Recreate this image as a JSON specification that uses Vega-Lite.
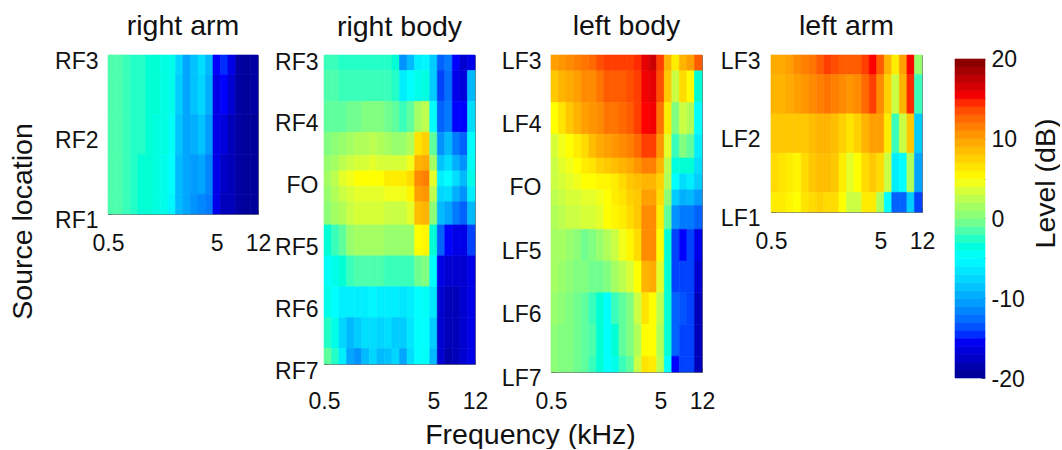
{"$schema":"https://vega.github.io/schema/vega-lite/v6.json","padding":{"left":7,"top":11,"right":0,"bottom":0},"background":"white",
"config":{"font":"Liberation Sans","view":{"stroke":"#777"},"title":{"font":"Liberation Sans","fontSize":28.5,"fontWeight":"normal","color":"#111"},"axis":{"labelFont":"Liberation Sans","titleFont":"Liberation Sans","labelFontSize":23,"titleFontSize":28.5,"titleFontWeight":"normal","labelColor":"#111","titleColor":"#111","grid":false,"tickColor":"#555","domainColor":"#777","tickSize":-4,"labelOverlap":false,"labelBound":false,"labelFlush":false}},
"datasets":{"fe":[{"f":0.5,"g":0.586},{"f":0.586,"g":0.686},{"f":0.686,"g":0.805},{"f":0.805,"g":0.943},{"f":0.943,"g":1.107},{"f":1.107,"g":1.297},{"f":1.297,"g":1.52},{"f":1.52,"g":1.783},{"f":1.783,"g":2.09},{"f":2.09,"g":2.449},{"f":2.449,"g":2.871},{"f":2.871,"g":3.366},{"f":3.366,"g":3.946},{"f":3.946,"g":4.626},{"f":4.626,"g":5.423},{"f":5.423,"g":6.357},{"f":6.357,"g":7.452},{"f":7.452,"g":8.736},{"f":8.736,"g":10.24},{"f":10.24,"g":12}],
"se":[{"s":0,"a":0,"b":0.25},{"s":0.5,"a":0.25,"b":0.75},{"s":1,"a":0.75,"b":1.25},{"s":1.5,"a":1.25,"b":1.625},{"s":1.75,"a":1.625,"b":1.875},{"s":2,"a":1.875,"b":2.125},{"s":2.25,"a":2.125,"b":2.375},{"s":2.5,"a":2.375,"b":2.75},{"s":3,"a":2.75,"b":3.25},{"s":3.5,"a":3.25,"b":3.75},{"s":4,"a":3.75,"b":4.25},{"s":4.5,"a":4.25,"b":4.75},{"s":5,"a":4.75,"b":5}],
"se2":[{"s":0,"a":0,"b":0.25},{"s":0.5,"a":0.25,"b":0.75},{"s":1,"a":0.75,"b":1.25},{"s":1.5,"a":1.25,"b":1.75},{"s":2,"a":1.75,"b":2}],
"ra":[
{"f":0.5,"s":0,"v":-1.5},{"f":0.586,"s":0,"v":-1.5},{"f":0.686,"s":0,"v":-2},{"f":0.805,"s":0,"v":-2.5},{"f":0.943,"s":0,"v":-2.5},{"f":1.107,"s":0,"v":-3},{"f":1.297,"s":0,"v":-3},{"f":1.52,"s":0,"v":-3.5},{"f":1.783,"s":0,"v":-4},{"f":2.09,"s":0,"v":-7.5},{"f":2.449,"s":0,"v":-10},{"f":2.871,"s":0,"v":-8.5},{"f":3.366,"s":0,"v":-7},{"f":3.946,"s":0,"v":-9},{"f":4.626,"s":0,"v":-15},{"f":5.423,"s":0,"v":-14.5},{"f":6.357,"s":0,"v":-16},{"f":7.452,"s":0,"v":-19},{"f":8.736,"s":0,"v":-19.5},{"f":10.24,"s":0,"v":-19},
{"f":0.5,"s":0.5,"v":-1.5},{"f":0.586,"s":0.5,"v":-1.5},{"f":0.686,"s":0.5,"v":-2},{"f":0.805,"s":0.5,"v":-2.5},{"f":0.943,"s":0.5,"v":-2.5},{"f":1.107,"s":0.5,"v":-3},{"f":1.297,"s":0.5,"v":-3},{"f":1.52,"s":0.5,"v":-3.5},{"f":1.783,"s":0.5,"v":-4},{"f":2.09,"s":0.5,"v":-8},{"f":2.449,"s":0.5,"v":-10},{"f":2.871,"s":0.5,"v":-8.5},{"f":3.366,"s":0.5,"v":-7.5},{"f":3.946,"s":0.5,"v":-9.5},{"f":4.626,"s":0.5,"v":-16},{"f":5.423,"s":0.5,"v":-15},{"f":6.357,"s":0.5,"v":-17},{"f":7.452,"s":0.5,"v":-19},{"f":8.736,"s":0.5,"v":-19.5},{"f":10.24,"s":0.5,"v":-19},
{"f":0.5,"s":1,"v":-1.5},{"f":0.586,"s":1,"v":-1.5},{"f":0.686,"s":1,"v":-2},{"f":0.805,"s":1,"v":-2.5},{"f":0.943,"s":1,"v":-2.5},{"f":1.107,"s":1,"v":-3},{"f":1.297,"s":1,"v":-3.5},{"f":1.52,"s":1,"v":-3.5},{"f":1.783,"s":1,"v":-4.5},{"f":2.09,"s":1,"v":-8.5},{"f":2.449,"s":1,"v":-10},{"f":2.871,"s":1,"v":-9.5},{"f":3.366,"s":1,"v":-8.5},{"f":3.946,"s":1,"v":-10.5},{"f":4.626,"s":1,"v":-16},{"f":5.423,"s":1,"v":-16.5},{"f":6.357,"s":1,"v":-18},{"f":7.452,"s":1,"v":-19},{"f":8.736,"s":1,"v":-19.5},{"f":10.24,"s":1,"v":-19.5},
{"f":0.5,"s":1.5,"v":-1.5},{"f":0.586,"s":1.5,"v":-1.5},{"f":0.686,"s":1.5,"v":-2},{"f":0.805,"s":1.5,"v":-2.5},{"f":0.943,"s":1.5,"v":-3},{"f":1.107,"s":1.5,"v":-3},{"f":1.297,"s":1.5,"v":-3.5},{"f":1.52,"s":1.5,"v":-4},{"f":1.783,"s":1.5,"v":-5},{"f":2.09,"s":1.5,"v":-9},{"f":2.449,"s":1.5,"v":-10},{"f":2.871,"s":1.5,"v":-10.5},{"f":3.366,"s":1.5,"v":-10},{"f":3.946,"s":1.5,"v":-11.5},{"f":4.626,"s":1.5,"v":-16},{"f":5.423,"s":1.5,"v":-17.5},{"f":6.357,"s":1.5,"v":-18},{"f":7.452,"s":1.5,"v":-19},{"f":8.736,"s":1.5,"v":-19.5},{"f":10.24,"s":1.5,"v":-19.5},
{"f":0.5,"s":2,"v":-1.5},{"f":0.586,"s":2,"v":-1.5},{"f":0.686,"s":2,"v":-2},{"f":0.805,"s":2,"v":-2.5},{"f":0.943,"s":2,"v":-3},{"f":1.107,"s":2,"v":-3},{"f":1.297,"s":2,"v":-3.5},{"f":1.52,"s":2,"v":-4},{"f":1.783,"s":2,"v":-5.5},{"f":2.09,"s":2,"v":-9},{"f":2.449,"s":2,"v":-10},{"f":2.871,"s":2,"v":-11},{"f":3.366,"s":2,"v":-11.5},{"f":3.946,"s":2,"v":-12},{"f":4.626,"s":2,"v":-16},{"f":5.423,"s":2,"v":-18},{"f":6.357,"s":2,"v":-18},{"f":7.452,"s":2,"v":-19},{"f":8.736,"s":2,"v":-19.5},{"f":10.24,"s":2,"v":-19.5}],
"rb":[
{"f":0.5,"s":0,"v":-2},{"f":0.586,"s":0,"v":-2},{"f":0.686,"s":0,"v":-2.5},{"f":0.805,"s":0,"v":-2.5},{"f":0.943,"s":0,"v":-2.5},{"f":1.107,"s":0,"v":-2.5},{"f":1.297,"s":0,"v":-2.5},{"f":1.52,"s":0,"v":-2.5},{"f":1.783,"s":0,"v":-2.5},{"f":2.09,"s":0,"v":-3},{"f":2.449,"s":0,"v":-11},{"f":2.871,"s":0,"v":-9},{"f":3.366,"s":0,"v":-6},{"f":3.946,"s":0,"v":-5.5},{"f":4.626,"s":0,"v":-8},{"f":5.423,"s":0,"v":-13},{"f":6.357,"s":0,"v":-12},{"f":7.452,"s":0,"v":-15},{"f":8.736,"s":0,"v":-17},{"f":10.24,"s":0,"v":-16},
{"f":0.5,"s":0.5,"v":-1.5},{"f":0.586,"s":0.5,"v":-1.5},{"f":0.686,"s":0.5,"v":-2},{"f":0.805,"s":0.5,"v":-2},{"f":0.943,"s":0.5,"v":-2},{"f":1.107,"s":0.5,"v":-2},{"f":1.297,"s":0.5,"v":-2},{"f":1.52,"s":0.5,"v":-2},{"f":1.783,"s":0.5,"v":-2},{"f":2.09,"s":0.5,"v":-2.5},{"f":2.449,"s":0.5,"v":-6},{"f":2.871,"s":0.5,"v":-5},{"f":3.366,"s":0.5,"v":-4},{"f":3.946,"s":0.5,"v":-3.5},{"f":4.626,"s":0.5,"v":-8},{"f":5.423,"s":0.5,"v":-14},{"f":6.357,"s":0.5,"v":-12.5},{"f":7.452,"s":0.5,"v":-16},{"f":8.736,"s":0.5,"v":-16.5},{"f":10.24,"s":0.5,"v":-9},
{"f":0.5,"s":1,"v":-1},{"f":0.586,"s":1,"v":-1},{"f":0.686,"s":1,"v":-1},{"f":0.805,"s":1,"v":-0.5},{"f":0.943,"s":1,"v":-0.5},{"f":1.107,"s":1,"v":0},{"f":1.297,"s":1,"v":0},{"f":1.52,"s":1,"v":0},{"f":1.783,"s":1,"v":-0.5},{"f":2.09,"s":1,"v":-1},{"f":2.449,"s":1,"v":-2},{"f":2.871,"s":1,"v":-1},{"f":3.366,"s":1,"v":1.5},{"f":3.946,"s":1,"v":2.5},{"f":4.626,"s":1,"v":-5},{"f":5.423,"s":1,"v":-13},{"f":6.357,"s":1,"v":-12},{"f":7.452,"s":1,"v":-15},{"f":8.736,"s":1,"v":-15},{"f":10.24,"s":1,"v":-7},
{"f":0.5,"s":1.5,"v":0},{"f":0.586,"s":1.5,"v":0.5},{"f":0.686,"s":1.5,"v":1},{"f":0.805,"s":1.5,"v":1.5},{"f":0.943,"s":1.5,"v":2},{"f":1.107,"s":1.5,"v":2},{"f":1.297,"s":1.5,"v":2.5},{"f":1.52,"s":1.5,"v":2},{"f":1.783,"s":1.5,"v":1.5},{"f":2.09,"s":1.5,"v":1},{"f":2.449,"s":1.5,"v":1},{"f":2.871,"s":1.5,"v":2},{"f":3.366,"s":1.5,"v":6.5},{"f":3.946,"s":1.5,"v":7.5},{"f":4.626,"s":1.5,"v":-1},{"f":5.423,"s":1.5,"v":-11},{"f":6.357,"s":1.5,"v":-9},{"f":7.452,"s":1.5,"v":-12},{"f":8.736,"s":1.5,"v":-13},{"f":10.24,"s":1.5,"v":-5},
{"f":0.5,"s":1.75,"v":1},{"f":0.586,"s":1.75,"v":1.5},{"f":0.686,"s":1.75,"v":2.5},{"f":0.805,"s":1.75,"v":3},{"f":0.943,"s":1.75,"v":3.5},{"f":1.107,"s":1.75,"v":3.5},{"f":1.297,"s":1.75,"v":4},{"f":1.52,"s":1.75,"v":3.5},{"f":1.783,"s":1.75,"v":3.5},{"f":2.09,"s":1.75,"v":3.5},{"f":2.449,"s":1.75,"v":3.5},{"f":2.871,"s":1.75,"v":4.5},{"f":3.366,"s":1.75,"v":9},{"f":3.946,"s":1.75,"v":9.5},{"f":4.626,"s":1.75,"v":1.5},{"f":5.423,"s":1.75,"v":-8.5},{"f":6.357,"s":1.75,"v":-7},{"f":7.452,"s":1.75,"v":-9.5},{"f":8.736,"s":1.75,"v":-11},{"f":10.24,"s":1.75,"v":-4.5},
{"f":0.5,"s":2,"v":1.5},{"f":0.586,"s":2,"v":2.5},{"f":0.686,"s":2,"v":4},{"f":0.805,"s":2,"v":4.5},{"f":0.943,"s":2,"v":5},{"f":1.107,"s":2,"v":5},{"f":1.297,"s":2,"v":5},{"f":1.52,"s":2,"v":5},{"f":1.783,"s":2,"v":6},{"f":2.09,"s":2,"v":6},{"f":2.449,"s":2,"v":6},{"f":2.871,"s":2,"v":7},{"f":3.366,"s":2,"v":11},{"f":3.946,"s":2,"v":11.5},{"f":4.626,"s":2,"v":4},{"f":5.423,"s":2,"v":-6},{"f":6.357,"s":2,"v":-5},{"f":7.452,"s":2,"v":-7},{"f":8.736,"s":2,"v":-9},{"f":10.24,"s":2,"v":-4},
{"f":0.5,"s":2.25,"v":1},{"f":0.586,"s":2.25,"v":2},{"f":0.686,"s":2.25,"v":3},{"f":0.805,"s":2.25,"v":3.5},{"f":0.943,"s":2.25,"v":4},{"f":1.107,"s":2.25,"v":4},{"f":1.297,"s":2.25,"v":4},{"f":1.52,"s":2.25,"v":4},{"f":1.783,"s":2.25,"v":4.5},{"f":2.09,"s":2.25,"v":4.5},{"f":2.449,"s":2.25,"v":4.5},{"f":2.871,"s":2.25,"v":5.5},{"f":3.366,"s":2.25,"v":10},{"f":3.946,"s":2.25,"v":10.5},{"f":4.626,"s":2.25,"v":2.5},{"f":5.423,"s":2.25,"v":-7.5},{"f":6.357,"s":2.25,"v":-7},{"f":7.452,"s":2.25,"v":-9.5},{"f":8.736,"s":2.25,"v":-11},{"f":10.24,"s":2.25,"v":-6},
{"f":0.5,"s":2.5,"v":0.5},{"f":0.586,"s":2.5,"v":1.5},{"f":0.686,"s":2.5,"v":2},{"f":0.805,"s":2.5,"v":3},{"f":0.943,"s":2.5,"v":3.5},{"f":1.107,"s":2.5,"v":3.5},{"f":1.297,"s":2.5,"v":3.5},{"f":1.52,"s":2.5,"v":3.5},{"f":1.783,"s":2.5,"v":3},{"f":2.09,"s":2.5,"v":3},{"f":2.449,"s":2.5,"v":3},{"f":2.871,"s":2.5,"v":4},{"f":3.366,"s":2.5,"v":8.5},{"f":3.946,"s":2.5,"v":9},{"f":4.626,"s":2.5,"v":0.5},{"f":5.423,"s":2.5,"v":-9},{"f":6.357,"s":2.5,"v":-10},{"f":7.452,"s":2.5,"v":-12},{"f":8.736,"s":2.5,"v":-13},{"f":10.24,"s":2.5,"v":-9},
{"f":0.5,"s":3,"v":-3},{"f":0.586,"s":3,"v":-2},{"f":0.686,"s":3,"v":-1},{"f":0.805,"s":3,"v":1},{"f":0.943,"s":3,"v":1.5},{"f":1.107,"s":3,"v":1.5},{"f":1.297,"s":3,"v":1.5},{"f":1.52,"s":3,"v":1.5},{"f":1.783,"s":3,"v":1},{"f":2.09,"s":3,"v":1},{"f":2.449,"s":3,"v":1},{"f":2.871,"s":3,"v":1},{"f":3.366,"s":3,"v":5},{"f":3.946,"s":3,"v":5.5},{"f":4.626,"s":3,"v":-3},{"f":5.423,"s":3,"v":-13},{"f":6.357,"s":3,"v":-15},{"f":7.452,"s":3,"v":-16},{"f":8.736,"s":3,"v":-16},{"f":10.24,"s":3,"v":-14},
{"f":0.5,"s":3.5,"v":-4.5},{"f":0.586,"s":3.5,"v":-4},{"f":0.686,"s":3.5,"v":-3},{"f":0.805,"s":3.5,"v":-2},{"f":0.943,"s":3.5,"v":-1.5},{"f":1.107,"s":3.5,"v":-1.5},{"f":1.297,"s":3.5,"v":-1.5},{"f":1.52,"s":3.5,"v":-1.5},{"f":1.783,"s":3.5,"v":-2},{"f":2.09,"s":3.5,"v":-2},{"f":2.449,"s":3.5,"v":-2},{"f":2.871,"s":3.5,"v":-2},{"f":3.366,"s":3.5,"v":-0.5},{"f":3.946,"s":3.5,"v":0},{"f":4.626,"s":3.5,"v":-5},{"f":5.423,"s":3.5,"v":-16},{"f":6.357,"s":3.5,"v":-17},{"f":7.452,"s":3.5,"v":-17},{"f":8.736,"s":3.5,"v":-17},{"f":10.24,"s":3.5,"v":-16},
{"f":0.5,"s":4,"v":-4},{"f":0.586,"s":4,"v":-5},{"f":0.686,"s":4,"v":-6},{"f":0.805,"s":4,"v":-6},{"f":0.943,"s":4,"v":-6},{"f":1.107,"s":4,"v":-6},{"f":1.297,"s":4,"v":-5.5},{"f":1.52,"s":4,"v":-6},{"f":1.783,"s":4,"v":-6},{"f":2.09,"s":4,"v":-6},{"f":2.449,"s":4,"v":-6.5},{"f":2.871,"s":4,"v":-6},{"f":3.366,"s":4,"v":-5},{"f":3.946,"s":4,"v":-4.5},{"f":4.626,"s":4,"v":-6.5},{"f":5.423,"s":4,"v":-17},{"f":6.357,"s":4,"v":-18},{"f":7.452,"s":4,"v":-18},{"f":8.736,"s":4,"v":-17},{"f":10.24,"s":4,"v":-16},
{"f":0.5,"s":4.5,"v":-2.5},{"f":0.586,"s":4.5,"v":-4},{"f":0.686,"s":4.5,"v":-7.5},{"f":0.805,"s":4.5,"v":-9},{"f":0.943,"s":4.5,"v":-8},{"f":1.107,"s":4.5,"v":-7},{"f":1.297,"s":4.5,"v":-7},{"f":1.52,"s":4.5,"v":-7.5},{"f":1.783,"s":4.5,"v":-7},{"f":2.09,"s":4.5,"v":-8},{"f":2.449,"s":4.5,"v":-8},{"f":2.871,"s":4.5,"v":-6.5},{"f":3.366,"s":4.5,"v":-5},{"f":3.946,"s":4.5,"v":-5},{"f":4.626,"s":4.5,"v":-8},{"f":5.423,"s":4.5,"v":-17},{"f":6.357,"s":4.5,"v":-18},{"f":7.452,"s":4.5,"v":-18},{"f":8.736,"s":4.5,"v":-17},{"f":10.24,"s":4.5,"v":-16},
{"f":0.5,"s":5,"v":-1},{"f":0.586,"s":5,"v":-2.5},{"f":0.686,"s":5,"v":-6},{"f":0.805,"s":5,"v":-10},{"f":0.943,"s":5,"v":-11},{"f":1.107,"s":5,"v":-9},{"f":1.297,"s":5,"v":-7.5},{"f":1.52,"s":5,"v":-9},{"f":1.783,"s":5,"v":-8.5},{"f":2.09,"s":5,"v":-7.5},{"f":2.449,"s":5,"v":-10},{"f":2.871,"s":5,"v":-7},{"f":3.366,"s":5,"v":-5},{"f":3.946,"s":5,"v":-4.5},{"f":4.626,"s":5,"v":-9},{"f":5.423,"s":5,"v":-17},{"f":6.357,"s":5,"v":-18.5},{"f":7.452,"s":5,"v":-18},{"f":8.736,"s":5,"v":-17},{"f":10.24,"s":5,"v":-16}],
"lb":[
{"f":0.5,"s":0,"v":10},{"f":0.586,"s":0,"v":10.5},{"f":0.686,"s":0,"v":11},{"f":0.805,"s":0,"v":11.5},{"f":0.943,"s":0,"v":12},{"f":1.107,"s":0,"v":12.5},{"f":1.297,"s":0,"v":13.5},{"f":1.52,"s":0,"v":14},{"f":1.783,"s":0,"v":14},{"f":2.09,"s":0,"v":14},{"f":2.449,"s":0,"v":14},{"f":2.871,"s":0,"v":14.5},{"f":3.366,"s":0,"v":16},{"f":3.946,"s":0,"v":17},{"f":4.626,"s":0,"v":14},{"f":5.423,"s":0,"v":9},{"f":6.357,"s":0,"v":6},{"f":7.452,"s":0,"v":9},{"f":8.736,"s":0,"v":10},{"f":10.24,"s":0,"v":13},
{"f":0.5,"s":0.5,"v":8},{"f":0.586,"s":0.5,"v":9},{"f":0.686,"s":0.5,"v":9.5},{"f":0.805,"s":0.5,"v":10},{"f":0.943,"s":0.5,"v":11},{"f":1.107,"s":0.5,"v":11},{"f":1.297,"s":0.5,"v":12},{"f":1.52,"s":0.5,"v":13},{"f":1.783,"s":0.5,"v":13},{"f":2.09,"s":0.5,"v":13},{"f":2.449,"s":0.5,"v":13.5},{"f":2.871,"s":0.5,"v":14},{"f":3.366,"s":0.5,"v":15.5},{"f":3.946,"s":0.5,"v":16},{"f":4.626,"s":0.5,"v":13.5},{"f":5.423,"s":0.5,"v":8},{"f":6.357,"s":0.5,"v":3},{"f":7.452,"s":0.5,"v":7},{"f":8.736,"s":0.5,"v":5},{"f":10.24,"s":0.5,"v":-3},
{"f":0.5,"s":1,"v":5},{"f":0.586,"s":1,"v":6.5},{"f":0.686,"s":1,"v":8},{"f":0.805,"s":1,"v":9},{"f":0.943,"s":1,"v":10},{"f":1.107,"s":1,"v":10.5},{"f":1.297,"s":1,"v":11},{"f":1.52,"s":1,"v":12},{"f":1.783,"s":1,"v":12},{"f":2.09,"s":1,"v":12.5},{"f":2.449,"s":1,"v":13},{"f":2.871,"s":1,"v":14},{"f":3.366,"s":1,"v":15},{"f":3.946,"s":1,"v":15.5},{"f":4.626,"s":1,"v":12},{"f":5.423,"s":1,"v":6},{"f":6.357,"s":1,"v":0},{"f":7.452,"s":1,"v":3},{"f":8.736,"s":1,"v":2},{"f":10.24,"s":1,"v":-5},
{"f":0.5,"s":1.5,"v":3.5},{"f":0.586,"s":1.5,"v":4.5},{"f":0.686,"s":1.5,"v":5},{"f":0.805,"s":1.5,"v":6},{"f":0.943,"s":1.5,"v":7},{"f":1.107,"s":1.5,"v":8.5},{"f":1.297,"s":1.5,"v":9.5},{"f":1.52,"s":1.5,"v":10},{"f":1.783,"s":1.5,"v":10.5},{"f":2.09,"s":1.5,"v":11},{"f":2.449,"s":1.5,"v":11.5},{"f":2.871,"s":1.5,"v":12.5},{"f":3.366,"s":1.5,"v":14},{"f":3.946,"s":1.5,"v":14},{"f":4.626,"s":1.5,"v":10.5},{"f":5.423,"s":1.5,"v":4},{"f":6.357,"s":1.5,"v":-2},{"f":7.452,"s":1.5,"v":0},{"f":8.736,"s":1.5,"v":-1},{"f":10.24,"s":1.5,"v":-6},
{"f":0.5,"s":1.75,"v":3},{"f":0.586,"s":1.75,"v":4},{"f":0.686,"s":1.75,"v":4.5},{"f":0.805,"s":1.75,"v":5},{"f":0.943,"s":1.75,"v":6},{"f":1.107,"s":1.75,"v":6.5},{"f":1.297,"s":1.75,"v":7.5},{"f":1.52,"s":1.75,"v":8},{"f":1.783,"s":1.75,"v":8.5},{"f":2.09,"s":1.75,"v":9},{"f":2.449,"s":1.75,"v":9.5},{"f":2.871,"s":1.75,"v":10.5},{"f":3.366,"s":1.75,"v":11.5},{"f":3.946,"s":1.75,"v":11.5},{"f":4.626,"s":1.75,"v":9},{"f":5.423,"s":1.75,"v":2.5},{"f":6.357,"s":1.75,"v":-3.5},{"f":7.452,"s":1.75,"v":-3},{"f":8.736,"s":1.75,"v":-3},{"f":10.24,"s":1.75,"v":-7},
{"f":0.5,"s":2,"v":3},{"f":0.586,"s":2,"v":3.5},{"f":0.686,"s":2,"v":4},{"f":0.805,"s":2,"v":4.5},{"f":0.943,"s":2,"v":5},{"f":1.107,"s":2,"v":5},{"f":1.297,"s":2,"v":5.5},{"f":1.52,"s":2,"v":5.5},{"f":1.783,"s":2,"v":6},{"f":2.09,"s":2,"v":7},{"f":2.449,"s":2,"v":8},{"f":2.871,"s":2,"v":8.5},{"f":3.366,"s":2,"v":9},{"f":3.946,"s":2,"v":9},{"f":4.626,"s":2,"v":7.5},{"f":5.423,"s":2,"v":2},{"f":6.357,"s":2,"v":-5},{"f":7.452,"s":2,"v":-7},{"f":8.736,"s":2,"v":-6},{"f":10.24,"s":2,"v":-8},
{"f":0.5,"s":2.25,"v":2.5},{"f":0.586,"s":2.25,"v":3},{"f":0.686,"s":2.25,"v":3.5},{"f":0.805,"s":2.25,"v":3.5},{"f":0.943,"s":2.25,"v":4},{"f":1.107,"s":2.25,"v":4},{"f":1.297,"s":2.25,"v":4.5},{"f":1.52,"s":2.25,"v":5},{"f":1.783,"s":2.25,"v":6},{"f":2.09,"s":2.25,"v":6.5},{"f":2.449,"s":2.25,"v":7.5},{"f":2.871,"s":2.25,"v":8},{"f":3.366,"s":2.25,"v":10},{"f":3.946,"s":2.25,"v":10},{"f":4.626,"s":2.25,"v":7},{"f":5.423,"s":2.25,"v":0.5},{"f":6.357,"s":2.25,"v":-8},{"f":7.452,"s":2.25,"v":-9.5},{"f":8.736,"s":2.25,"v":-9},{"f":10.24,"s":2.25,"v":-10.5},
{"f":0.5,"s":2.5,"v":2},{"f":0.586,"s":2.5,"v":2.5},{"f":0.686,"s":2.5,"v":3},{"f":0.805,"s":2.5,"v":3},{"f":0.943,"s":2.5,"v":3.5},{"f":1.107,"s":2.5,"v":3.5},{"f":1.297,"s":2.5,"v":4},{"f":1.52,"s":2.5,"v":5},{"f":1.783,"s":2.5,"v":5.5},{"f":2.09,"s":2.5,"v":6},{"f":2.449,"s":2.5,"v":7},{"f":2.871,"s":2.5,"v":8},{"f":3.366,"s":2.5,"v":11},{"f":3.946,"s":2.5,"v":11},{"f":4.626,"s":2.5,"v":6},{"f":5.423,"s":2.5,"v":-1},{"f":6.357,"s":2.5,"v":-11},{"f":7.452,"s":2.5,"v":-12},{"f":8.736,"s":2.5,"v":-12},{"f":10.24,"s":2.5,"v":-13},
{"f":0.5,"s":3,"v":1.5},{"f":0.586,"s":3,"v":1.5},{"f":0.686,"s":3,"v":1},{"f":0.805,"s":3,"v":0.5},{"f":0.943,"s":3,"v":-0.5},{"f":1.107,"s":3,"v":0},{"f":1.297,"s":3,"v":1},{"f":1.52,"s":3,"v":2},{"f":1.783,"s":3,"v":3},{"f":2.09,"s":3,"v":4.5},{"f":2.449,"s":3,"v":5.5},{"f":2.871,"s":3,"v":7},{"f":3.366,"s":3,"v":11},{"f":3.946,"s":3,"v":11},{"f":4.626,"s":3,"v":5},{"f":5.423,"s":3,"v":-3},{"f":6.357,"s":3,"v":-14},{"f":7.452,"s":3,"v":-15},{"f":8.736,"s":3,"v":-14},{"f":10.24,"s":3,"v":-16},
{"f":0.5,"s":3.5,"v":1.5},{"f":0.586,"s":3.5,"v":1},{"f":0.686,"s":3.5,"v":0.5},{"f":0.805,"s":3.5,"v":0},{"f":0.943,"s":3.5,"v":0},{"f":1.107,"s":3.5,"v":-0.5},{"f":1.297,"s":3.5,"v":-0.5},{"f":1.52,"s":3.5,"v":0},{"f":1.783,"s":3.5,"v":1.5},{"f":2.09,"s":3.5,"v":2.5},{"f":2.449,"s":3.5,"v":3.5},{"f":2.871,"s":3.5,"v":5},{"f":3.366,"s":3.5,"v":9},{"f":3.946,"s":3.5,"v":9.5},{"f":4.626,"s":3.5,"v":4},{"f":5.423,"s":3.5,"v":-3},{"f":6.357,"s":3.5,"v":-14},{"f":7.452,"s":3.5,"v":-14},{"f":8.736,"s":3.5,"v":-14},{"f":10.24,"s":3.5,"v":-17},
{"f":0.5,"s":4,"v":1},{"f":0.586,"s":4,"v":0.5},{"f":0.686,"s":4,"v":0},{"f":0.805,"s":4,"v":-0.5},{"f":0.943,"s":4,"v":-1},{"f":1.107,"s":4,"v":-2},{"f":1.297,"s":4,"v":-3},{"f":1.52,"s":4,"v":-5},{"f":1.783,"s":4,"v":-2},{"f":2.09,"s":4,"v":-1},{"f":2.449,"s":4,"v":0},{"f":2.871,"s":4,"v":3},{"f":3.366,"s":4,"v":6.5},{"f":3.946,"s":4,"v":5},{"f":4.626,"s":4,"v":2.5},{"f":5.423,"s":4,"v":-3},{"f":6.357,"s":4,"v":-13},{"f":7.452,"s":4,"v":-13.5},{"f":8.736,"s":4,"v":-14},{"f":10.24,"s":4,"v":-18},
{"f":0.5,"s":4.5,"v":0.5},{"f":0.586,"s":4.5,"v":0},{"f":0.686,"s":4.5,"v":0},{"f":0.805,"s":4.5,"v":-0.5},{"f":0.943,"s":4.5,"v":-1},{"f":1.107,"s":4.5,"v":-1.5},{"f":1.297,"s":4.5,"v":-3},{"f":1.52,"s":4.5,"v":-5},{"f":1.783,"s":4.5,"v":-3},{"f":2.09,"s":4.5,"v":-1},{"f":2.449,"s":4.5,"v":0},{"f":2.871,"s":4.5,"v":2},{"f":3.366,"s":4.5,"v":5},{"f":3.946,"s":4.5,"v":5},{"f":4.626,"s":4.5,"v":2},{"f":5.423,"s":4.5,"v":-3},{"f":6.357,"s":4.5,"v":-13},{"f":7.452,"s":4.5,"v":-14},{"f":8.736,"s":4.5,"v":-14},{"f":10.24,"s":4.5,"v":-18},
{"f":0.5,"s":5,"v":0.5},{"f":0.586,"s":5,"v":0},{"f":0.686,"s":5,"v":0},{"f":0.805,"s":5,"v":-0.5},{"f":0.943,"s":5,"v":-1},{"f":1.107,"s":5,"v":-2},{"f":1.297,"s":5,"v":-3},{"f":1.52,"s":5,"v":-5},{"f":1.783,"s":5,"v":-4},{"f":2.09,"s":5,"v":-2},{"f":2.449,"s":5,"v":-1},{"f":2.871,"s":5,"v":3},{"f":3.366,"s":5,"v":6.5},{"f":3.946,"s":5,"v":6},{"f":4.626,"s":5,"v":2.5},{"f":5.423,"s":5,"v":-5},{"f":6.357,"s":5,"v":-15},{"f":7.452,"s":5,"v":-14},{"f":8.736,"s":5,"v":-14},{"f":10.24,"s":5,"v":-18}],
"la":[
{"f":0.5,"s":0,"v":9.5},{"f":0.586,"s":0,"v":9.5},{"f":0.686,"s":0,"v":10},{"f":0.805,"s":0,"v":11},{"f":0.943,"s":0,"v":11.5},{"f":1.107,"s":0,"v":12},{"f":1.297,"s":0,"v":13},{"f":1.52,"s":0,"v":14},{"f":1.783,"s":0,"v":13.5},{"f":2.09,"s":0,"v":13},{"f":2.449,"s":0,"v":13},{"f":2.871,"s":0,"v":13},{"f":3.366,"s":0,"v":14},{"f":3.946,"s":0,"v":15},{"f":4.626,"s":0,"v":13},{"f":5.423,"s":0,"v":9},{"f":6.357,"s":0,"v":6},{"f":7.452,"s":0,"v":10},{"f":8.736,"s":0,"v":15},{"f":10.24,"s":0,"v":1},
{"f":0.5,"s":0.5,"v":9},{"f":0.586,"s":0.5,"v":9},{"f":0.686,"s":0.5,"v":9.5},{"f":0.805,"s":0.5,"v":10},{"f":0.943,"s":0.5,"v":10.5},{"f":1.107,"s":0.5,"v":11},{"f":1.297,"s":0.5,"v":11.5},{"f":1.52,"s":0.5,"v":12},{"f":1.783,"s":0.5,"v":11.5},{"f":2.09,"s":0.5,"v":11},{"f":2.449,"s":0.5,"v":10.5},{"f":2.871,"s":0.5,"v":11},{"f":3.366,"s":0.5,"v":12.5},{"f":3.946,"s":0.5,"v":14},{"f":4.626,"s":0.5,"v":11},{"f":5.423,"s":0.5,"v":7.5},{"f":6.357,"s":0.5,"v":3},{"f":7.452,"s":0.5,"v":9},{"f":8.736,"s":0.5,"v":14.5},{"f":10.24,"s":0.5,"v":-2},
{"f":0.5,"s":1,"v":8},{"f":0.586,"s":1,"v":8},{"f":0.686,"s":1,"v":8},{"f":0.805,"s":1,"v":8},{"f":0.943,"s":1,"v":8},{"f":1.107,"s":1,"v":8.5},{"f":1.297,"s":1,"v":9},{"f":1.52,"s":1,"v":9},{"f":1.783,"s":1,"v":8.5},{"f":2.09,"s":1,"v":7.5},{"f":2.449,"s":1,"v":6.5},{"f":2.871,"s":1,"v":7.5},{"f":3.366,"s":1,"v":9},{"f":3.946,"s":1,"v":10},{"f":4.626,"s":1,"v":10},{"f":5.423,"s":1,"v":6},{"f":6.357,"s":1,"v":-2},{"f":7.452,"s":1,"v":3},{"f":8.736,"s":1,"v":8},{"f":10.24,"s":1,"v":-8},
{"f":0.5,"s":1.5,"v":7},{"f":0.586,"s":1.5,"v":6.5},{"f":0.686,"s":1.5,"v":6},{"f":0.805,"s":1.5,"v":5.5},{"f":0.943,"s":1.5,"v":7},{"f":1.107,"s":1.5,"v":8},{"f":1.297,"s":1.5,"v":8.5},{"f":1.52,"s":1.5,"v":8.5},{"f":1.783,"s":1.5,"v":8},{"f":2.09,"s":1.5,"v":6},{"f":2.449,"s":1.5,"v":4},{"f":2.871,"s":1.5,"v":5},{"f":3.366,"s":1.5,"v":7},{"f":3.946,"s":1.5,"v":8},{"f":4.626,"s":1.5,"v":7},{"f":5.423,"s":1.5,"v":3},{"f":6.357,"s":1.5,"v":-6},{"f":7.452,"s":1.5,"v":-5},{"f":8.736,"s":1.5,"v":2},{"f":10.24,"s":1.5,"v":-10},
{"f":0.5,"s":2,"v":6},{"f":0.586,"s":2,"v":6},{"f":0.686,"s":2,"v":5.5},{"f":0.805,"s":2,"v":5},{"f":0.943,"s":2,"v":6.5},{"f":1.107,"s":2,"v":7},{"f":1.297,"s":2,"v":7.5},{"f":1.52,"s":2,"v":7},{"f":1.783,"s":2,"v":7},{"f":2.09,"s":2,"v":5},{"f":2.449,"s":2,"v":3},{"f":2.871,"s":2,"v":3},{"f":3.366,"s":2,"v":6},{"f":3.946,"s":2,"v":6},{"f":4.626,"s":2,"v":2},{"f":5.423,"s":2,"v":-5},{"f":6.357,"s":2,"v":-13},{"f":7.452,"s":2,"v":-13},{"f":8.736,"s":2,"v":-8},{"f":10.24,"s":2,"v":-14}],
"cb":[{"a":-20,"b":-19,"v":-19.5},{"a":-19,"b":-18,"v":-18.5},{"a":-18,"b":-17,"v":-17.5},{"a":-17,"b":-16,"v":-16.5},{"a":-16,"b":-15,"v":-15.5},{"a":-15,"b":-14,"v":-14.5},{"a":-14,"b":-13,"v":-13.5},{"a":-13,"b":-12,"v":-12.5},{"a":-12,"b":-11,"v":-11.5},{"a":-11,"b":-10,"v":-10.5},{"a":-10,"b":-9,"v":-9.5},{"a":-9,"b":-8,"v":-8.5},{"a":-8,"b":-7,"v":-7.5},{"a":-7,"b":-6,"v":-6.5},{"a":-6,"b":-5,"v":-5.5},{"a":-5,"b":-4,"v":-4.5},{"a":-4,"b":-3,"v":-3.5},{"a":-3,"b":-2,"v":-2.5},{"a":-2,"b":-1,"v":-1.5},{"a":-1,"b":0,"v":-0.5},{"a":0,"b":1,"v":0.5},{"a":1,"b":2,"v":1.5},{"a":2,"b":3,"v":2.5},{"a":3,"b":4,"v":3.5},{"a":4,"b":5,"v":4.5},{"a":5,"b":6,"v":5.5},{"a":6,"b":7,"v":6.5},{"a":7,"b":8,"v":7.5},{"a":8,"b":9,"v":8.5},{"a":9,"b":10,"v":9.5},{"a":10,"b":11,"v":10.5},{"a":11,"b":12,"v":11.5},{"a":12,"b":13,"v":12.5},{"a":13,"b":14,"v":13.5},{"a":14,"b":15,"v":14.5},{"a":15,"b":16,"v":15.5},{"a":16,"b":17,"v":16.5},{"a":17,"b":18,"v":17.5},{"a":18,"b":19,"v":18.5},{"a":19,"b":20,"v":19.5}]},
"bounds":"flush","spacing":847,
"hconcat":[{"bounds":"flush","spacing":443,"hconcat":[{"bounds":"flush","spacing":66,"hconcat":[
{"title":{"text":"right arm","offset":10},"width":150,"height":159,"data":{"name":"ra"},
"transform":[{"lookup":"f","from":{"data":{"name":"fe"},"key":"f","fields":["g"]}},{"lookup":"s","from":{"data":{"name":"se2"},"key":"s","fields":["a","b"]}}],
"mark":{"type":"rect","strokeWidth":0.6},
"encoding":{"x":{"field":"f","type":"quantitative","scale":{"type":"log","domain":[0.5,12],"nice":false},"axis":{"title":null,"values":[0.5,1,2,3,4,5,10,12],"labelExpr":"datum.value==0.5||datum.value==5||datum.value==12?datum.label:''","format":"~g","labelPadding":22}},"x2":{"field":"g"},
"y":{"field":"a","type":"quantitative","scale":{"domain":[0,2],"reverse":true,"nice":false,"zero":false},"axis":{"values":[0,1,2],"labelExpr":"['RF3','RF2','RF1'][datum.value]","labelOffset":6,"labelPadding":14,"title":"Source location","titleX":-86,"titleY":166,"titleAngle":-90,"titleAlign":"center","titleBaseline":"middle"}},"y2":{"field":"b"},
"color":{"field":"v","type":"quantitative","legend":null,"scale":{"domain":[-20,-15,-5,0,5,15,20],"range":["#00008f","#0000ff","#00ffff","#80ff80","#ffff00","#ff0000","#800000"]}},
"stroke":{"field":"v","type":"quantitative","legend":null,"scale":{"domain":[-20,-15,-5,0,5,15,20],"range":["#00008f","#0000ff","#00ffff","#80ff80","#ffff00","#ff0000","#800000"]}}}},
{"title":{"text":"right body","offset":10},"width":151,"height":309,"data":{"name":"rb"},
"transform":[{"lookup":"f","from":{"data":{"name":"fe"},"key":"f","fields":["g"]}},{"lookup":"s","from":{"data":{"name":"se"},"key":"s","fields":["a","b"]}}],
"mark":{"type":"rect","strokeWidth":0.6},
"encoding":{"x":{"field":"f","type":"quantitative","scale":{"type":"log","domain":[0.5,12],"nice":false},"axis":{"title":null,"values":[0.5,1,2,3,4,5,10,12],"labelExpr":"datum.value==0.5||datum.value==5||datum.value==12?datum.label:''","format":"~g","labelPadding":30}},"x2":{"field":"g"},
"y":{"field":"a","type":"quantitative","scale":{"domain":[0,5],"reverse":true,"nice":false,"zero":false},"axis":{"title":null,"values":[0,1,2,3,4,5],"labelExpr":"['RF3','RF4','FO','RF5','RF6','RF7'][datum.value]","labelOffset":7,"labelPadding":10}},"y2":{"field":"b"},
"color":{"field":"v","type":"quantitative","legend":null,"scale":{"domain":[-20,-15,-5,0,5,15,20],"range":["#00008f","#0000ff","#00ffff","#80ff80","#ffff00","#ff0000","#800000"]}},
"stroke":{"field":"v","type":"quantitative","legend":null,"scale":{"domain":[-20,-15,-5,0,5,15,20],"range":["#00008f","#0000ff","#00ffff","#80ff80","#ffff00","#ff0000","#800000"]}}}}]},
{"bounds":"flush","spacing":69,"hconcat":[
{"title":{"text":"left body","offset":10},"width":151,"height":317,"data":{"name":"lb"},
"transform":[{"lookup":"f","from":{"data":{"name":"fe"},"key":"f","fields":["g"]}},{"lookup":"s","from":{"data":{"name":"se"},"key":"s","fields":["a","b"]}}],
"mark":{"type":"rect","strokeWidth":0.6},
"encoding":{"x":{"field":"f","type":"quantitative","scale":{"type":"log","domain":[0.5,12],"nice":false},"axis":{"title":"Frequency (kHz)","titleX":-21,"titleY":62,"titleAlign":"center","titleBaseline":"middle","values":[0.5,1,2,3,4,5,10,12],"labelExpr":"datum.value==0.5||datum.value==5||datum.value==12?datum.label:''","format":"~g","labelPadding":22}},"x2":{"field":"g"},
"y":{"field":"a","type":"quantitative","scale":{"domain":[0,5],"reverse":true,"nice":false,"zero":false},"axis":{"title":null,"values":[0,1,2,3,4,5],"labelExpr":"['LF3','LF4','FO','LF5','LF6','LF7'][datum.value]","labelOffset":6,"labelPadding":14}},"y2":{"field":"b"},
"color":{"field":"v","type":"quantitative","legend":null,"scale":{"domain":[-20,-15,-5,0,5,15,20],"range":["#00008f","#0000ff","#00ffff","#80ff80","#ffff00","#ff0000","#800000"]}},
"stroke":{"field":"v","type":"quantitative","legend":null,"scale":{"domain":[-20,-15,-5,0,5,15,20],"range":["#00008f","#0000ff","#00ffff","#80ff80","#ffff00","#ff0000","#800000"]}}}},
{"title":{"text":"left arm","offset":10},"width":151,"height":157,"data":{"name":"la"},
"transform":[{"lookup":"f","from":{"data":{"name":"fe"},"key":"f","fields":["g"]}},{"lookup":"s","from":{"data":{"name":"se2"},"key":"s","fields":["a","b"]}}],
"mark":{"type":"rect","strokeWidth":0.6},
"encoding":{"x":{"field":"f","type":"quantitative","scale":{"type":"log","domain":[0.5,12],"nice":false},"axis":{"title":null,"values":[0.5,1,2,3,4,5,10,12],"labelExpr":"datum.value==0.5||datum.value==5||datum.value==12?datum.label:''","format":"~g","labelPadding":22}},"x2":{"field":"g"},
"y":{"field":"a","type":"quantitative","scale":{"domain":[0,2],"reverse":true,"nice":false,"zero":false},"axis":{"title":null,"values":[0,1,2],"labelExpr":"['LF3','LF2','LF1'][datum.value]","labelOffset":6,"labelPadding":15}},"y2":{"field":"b"},
"color":{"field":"v","type":"quantitative","legend":null,"scale":{"domain":[-20,-15,-5,0,5,15,20],"range":["#00008f","#0000ff","#00ffff","#80ff80","#ffff00","#ff0000","#800000"]}},
"stroke":{"field":"v","type":"quantitative","legend":null,"scale":{"domain":[-20,-15,-5,0,5,15,20],"range":["#00008f","#0000ff","#00ffff","#80ff80","#ffff00","#ff0000","#800000"]}}}}]}]},
{"width":30,"height":323,"view":{"stroke":null},"data":{"name":"cb"},"mark":{"type":"rect","strokeWidth":0.6},
"encoding":{"y":{"field":"a","type":"quantitative","scale":{"domain":[-20,20.5],"nice":false,"zero":false},"axis":{"orient":"right","domain":false,"values":[-20,-15,-10,-5,0,5,10,15,20],"labelExpr":"datum.value%10==0?''+datum.value:''","labelOffset":1,"labelPadding":10,"title":"Level (dB)","titleX":60,"titleY":128,"titleAngle":-90,"titleAlign":"center","titleBaseline":"middle"}},"y2":{"field":"b"},
"color":{"field":"v","type":"quantitative","legend":null,"scale":{"domain":[-20,-15,-5,0,5,15,20],"range":["#00008f","#0000ff","#00ffff","#80ff80","#ffff00","#ff0000","#800000"]}},
"stroke":{"field":"v","type":"quantitative","legend":null,"scale":{"domain":[-20,-15,-5,0,5,15,20],"range":["#00008f","#0000ff","#00ffff","#80ff80","#ffff00","#ff0000","#800000"]}}}}]}
